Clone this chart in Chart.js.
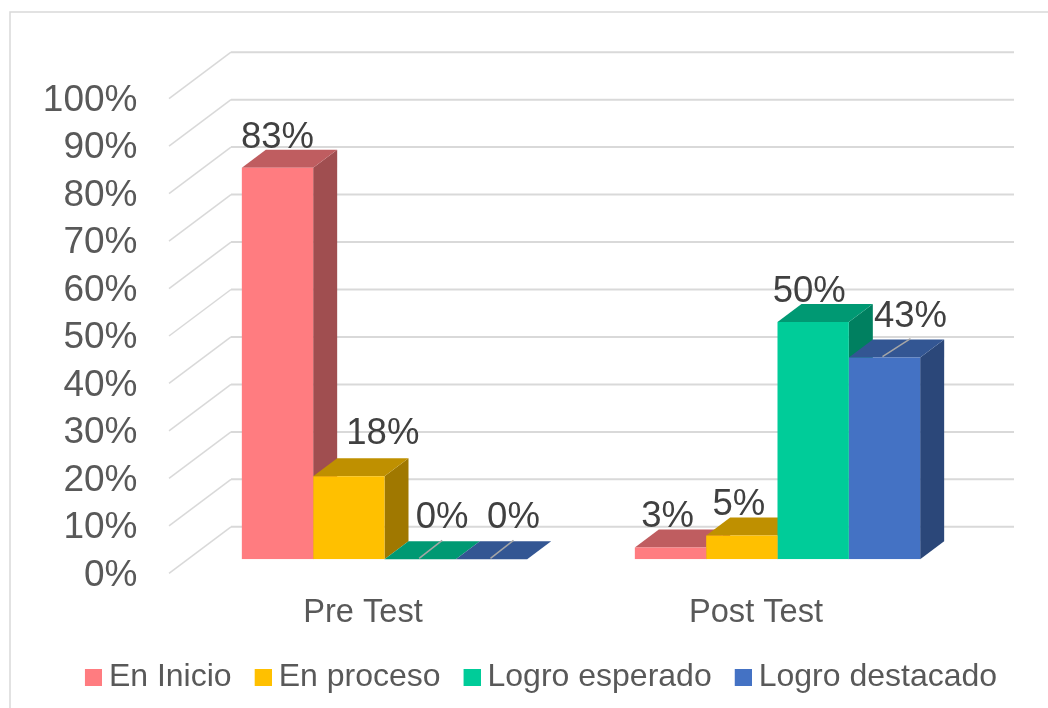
<!DOCTYPE html>
<html>
<head>
<meta charset="utf-8">
<style>html,body{margin:0;padding:0;background:#fff}#w{width:1048px;height:708px;position:relative}canvas{display:block}</style>
<script src="https://cdn.jsdelivr.net/npm/chart.js@4"></script>
</head>
<body>
<div id="w"><canvas id="c" width="1048" height="708"></canvas></div>
<script>
const categories = ["Pre Test", "Post Test"];
const seriesNames = ["En Inicio", "En proceso", "Logro esperado", "Logro destacado"];
const enInicio = [82.5, 2.5];
const enProceso = [17.5, 5];
const logroEsperado = [0, 50];
const logroDestacado = [0, 42.5];
const yTicks = [0, 10, 20, 30, 40, 50, 60, 70, 80, 90, 100];

const frontColors = ["#FF7C80", "#FFC000", "#00CC99", "#4472C4"];
const topColors = ["#BF5D60", "#BF9000", "#009973", "#335693"];
const sideColors = ["#A04E50", "#A07800", "#008060", "#2B4779"];

const FONT = "'Liberation Sans', Arial, sans-serif";
const AREA = {left: 188, right: 974, top: 84.7, bottom: 559.3};
const DEPTH = {dx: 24, dy: 18};
const WALL = {frontDx: -19, frontDy: 14, backDx: 43, backDy: -32.5, right: 1014};
// label placement [dataset][category]: shift from bar centre / bar top, optional leader line
const labelPlace = [
  [{x: 0, y: -30}, {x: -3, y: -30}],
  [{x: 34, y: -42}, {x: -3, y: -31}],
  [{x: 22, y: -41, leader: 23}, {x: -4, y: -30}],
  [{x: 22, y: -41, leader: 23}, {x: 26, y: -41, leader: 28}]
];

function swatch(color) {
  const c = document.createElement("canvas");
  c.width = 18; c.height = 17;
  const g = c.getContext("2d");
  g.fillStyle = color;
  g.fillRect(1, 0, 17, 17);
  return c;
}
const swatches = frontColors.map(swatch);

function poly(ctx, color, pts) {
  ctx.fillStyle = color;
  ctx.beginPath();
  pts.forEach((p, i) => i ? ctx.lineTo(p[0], p[1]) : ctx.moveTo(p[0], p[1]));
  ctx.closePath();
  ctx.fill();
}

const chart3d = {
  id: "chart3d",
  afterLayout(chart) {
    const l = chart.legend;
    const h = l.bottom - l.top;
    const w = l.right - l.left;
    l.left = 21; l.right = 21 + w;
    l.top = 630; l.bottom = 630 + h;
  },
  beforeDraw(chart) {
    const ctx = chart.ctx;
    ctx.save();
    ctx.fillStyle = "#fff";
    ctx.fillRect(0, 0, chart.width, chart.height);
    ctx.strokeStyle = "#D9D9D9";
    ctx.lineWidth = 1.5;
    ctx.beginPath();
    ctx.moveTo(10, 708); ctx.lineTo(10, 12); ctx.lineTo(1048, 12);
    ctx.stroke();
    const y = chart.scales.y, left = chart.chartArea.left;
    y.ticks.forEach(t => {
      const p = y.getPixelForValue(t.value);
      const bx = left + WALL.backDx, by = p + WALL.backDy;
      ctx.lineWidth = 1.5;
      ctx.beginPath();
      ctx.moveTo(left + WALL.frontDx, p + WALL.frontDy);
      ctx.lineTo(bx, by);
      ctx.stroke();
      ctx.lineWidth = 2;
      ctx.beginPath();
      ctx.moveTo(bx, by);
      ctx.lineTo(WALL.right, by);
      ctx.stroke();
    });
    ctx.restore();
  },
  beforeDatasetsDraw(chart) {
    const ctx = chart.ctx;
    ctx.save();
    chart.data.datasets.forEach((ds, d) => {
      chart.getDatasetMeta(d).data.forEach(bar => {
        const l = bar.x - bar.width / 2, r = bar.x + bar.width / 2;
        const t = bar.y, b = bar.base;
        const dx = DEPTH.dx, dy = DEPTH.dy;
        poly(ctx, sideColors[d], [[r, t], [r + dx, t - dy], [r + dx, b - dy], [r, b]]);
        poly(ctx, topColors[d], [[l, t], [l + dx, t - dy], [r + dx, t - dy], [r, t]]);
      });
    });
    ctx.restore();
  },
  afterDatasetsDraw(chart) {
    const ctx = chart.ctx;
    ctx.save();
    ctx.textAlign = "center";
    ctx.textBaseline = "middle";
    ctx.font = "36.5px " + FONT;
    chart.data.datasets.forEach((ds, d) => {
      chart.getDatasetMeta(d).data.forEach((bar, i) => {
        const pl = labelPlace[d][i];
        const lx = bar.x + pl.x;
        if (pl.leader) {
          ctx.strokeStyle = "#A6A6A6";
          ctx.lineWidth = 1.5;
          ctx.beginPath();
          ctx.moveTo(lx - pl.leader, bar.y - 1);
          ctx.lineTo(lx, bar.y - DEPTH.dy - 1);
          ctx.stroke();
        }
        ctx.fillStyle = "#404040";
        ctx.fillText(ds.data[i].toFixed(0) + "%", lx, bar.y + pl.y);
      });
    });
    ctx.restore();
  }
};

const seriesValues = [enInicio, enProceso, logroEsperado, logroDestacado];

new Chart(document.getElementById("c"), {
  type: "bar",
  data: {
    labels: categories,
    datasets: seriesNames.map((name, i) => ({
      label: name,
      data: seriesValues[i],
      backgroundColor: frontColors[i],
      borderWidth: 0
    }))
  },
  plugins: [chart3d],
  options: {
    responsive: false,
    animation: false,
    events: [],
    layout: {padding: {left: 0, top: AREA.top, right: 0, bottom: 0}},
    datasets: {bar: {categoryPercentage: 0.726, barPercentage: 1}},
    scales: {
      x: {
        grid: {display: false, drawTicks: false},
        border: {display: false},
        ticks: {
          color: "#595959",
          font: {family: FONT, size: 32.6},
          padding: 34,
          labelOffset: -21.5,
          maxRotation: 0
        },
        afterFit(s) { s.height = 708 - (s.chart.legend ? s.chart.legend.height : 90) - AREA.bottom; }
      },
      y: {
        min: 0,
        max: 100,
        afterBuildTicks(s) { s.ticks = yTicks.map(v => ({value: v})); },
        grid: {display: false, drawTicks: false},
        border: {display: false},
        ticks: {
          color: "#595959",
          font: {family: FONT, size: 37},
          padding: 50.5,
          labelOffset: 16,
          callback: v => v + "%"
        },
        afterFit(s) { s.width = AREA.left; }
      },
      rightMargin: {
        type: "linear",
        position: "right",
        min: 0,
        max: 100,
        grid: {display: false, drawTicks: false},
        border: {display: false},
        ticks: {display: false},
        afterFit(s) { s.width = 1048 - AREA.right; }
      }
    },
    plugins: {
      tooltip: {enabled: false},
      title: {display: false},
      legend: {
        position: "bottom",
        labels: {
          usePointStyle: true,
          pointStyleWidth: 0.01,
          padding: 31,
          color: "#595959",
          font: {family: FONT, size: 32},
          generateLabels(chart) {
            const items = Chart.defaults.plugins.legend.labels.generateLabels(chart);
            items.forEach(it => { it.pointStyle = swatches[it.datasetIndex]; });
            return items;
          }
        }
      }
    }
  }
});
</script>
</body>
</html>
